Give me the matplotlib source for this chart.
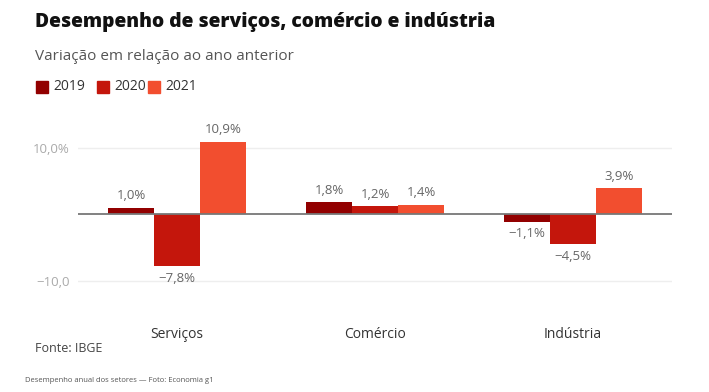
import matplotlib
matplotlib.use("Agg")
import matplotlib.pyplot as plt
from matplotlib.patches import Rectangle
from matplotlib import transforms
import numpy as np

plt.rcParams["font.family"] = ["Open Sans", "DejaVu Sans"]

# ---------- data ----------
categories = ["Serviços", "Comércio", "Indústria"]
years = ["2019", "2020", "2021"]
v2019 = [1.0, 1.8, -1.1]
v2020 = [-7.8, 1.2, -4.5]
v2021 = [10.9, 1.4, 3.9]
yticks = [-10, 10]
ytick_labels = ["\u221210,0", "10,0%"]

colors = ["#920000", "#c4160c", "#f24e2f"]

fig = plt.figure(figsize=(7.09, 3.92), dpi=100)
fig.patch.set_facecolor("#ffffff")
ax = fig.add_axes([0.110, 0.235, 0.838, 0.484])

x = np.arange(len(categories))
w = 0.232
series = [v2019, v2020, v2021]
for i, (vals, c) in enumerate(zip(series, colors)):
    bars = ax.bar(x + (i - 1) * w, vals, width=w, color=c, zorder=2)
    for b, v in zip(bars, vals):
        lbl = f"{v:.1f}%".replace(".", ",").replace("-", "\u2212")
        if v >= 0:
            ax.annotate(lbl, (b.get_x() + b.get_width() / 2, v), xytext=(0, 4),
                        textcoords="offset points", ha="center", va="bottom",
                        fontsize=9.5, color="#666666")
        else:
            ax.annotate(lbl, (b.get_x() + b.get_width() / 2, v), xytext=(0, -4),
                        textcoords="offset points", ha="center", va="top",
                        fontsize=9.5, color="#666666")

ax.set_xlim(-0.5, 2.5)
ax.set_ylim(-12.8, 15.6)
ax.axhline(0, color="#777777", lw=1.3, zorder=3)
for t in yticks:
    ax.axhline(t, color="#eeeeee", lw=1, zorder=1)
ax.set_yticks(yticks)
ax.set_yticklabels(ytick_labels)
ax.tick_params(axis="y", length=0, labelsize=9.5, labelcolor="#aaaaaa", pad=6)
ax.set_xticks([])
for s in ax.spines.values():
    s.set_visible(False)

# category labels
trans = transforms.blended_transform_factory(ax.transData, fig.transFigure)
for xi, cat in zip(x, categories):
    ax.text(xi, 1 - 334 / 392, cat, transform=trans, ha="center", va="center",
            fontsize=10, color="#333333")

# title, subtitle
fig.text(35 / 709, 1 - 22 / 392, "Desempenho de serviços, comércio e indústria",
         fontsize=13.9, fontweight="heavy", color="#111111", va="center", ha="left")
fig.text(35 / 709, 1 - 57 / 392, "Variação em relação ao ano anterior",
         fontsize=11, color="#555555", va="center", ha="left")

# legend
leg_x = [36, 97, 148]
for lx, yr, c in zip(leg_x, years, colors):
    fig.patches.append(Rectangle((lx / 709, 1 - 93 / 392), 12 / 709, 12 / 392,
                                 transform=fig.transFigure, color=c))
    fig.text((lx + 17) / 709, 1 - 87 / 392, yr, fontsize=10, color="#333333",
             va="center", ha="left")

fig.text(35 / 709, 1 - 348 / 392, "Fonte: IBGE", fontsize=9, color="#444444",
         va="center", ha="left")
fig.text(25 / 709, 1 - 380 / 392, "Desempenho anual dos setores \u2014 Foto: Economia g1",
         fontsize=5.5, color="#555555", va="center", ha="left")

fig.savefig("out.png", dpi=100, facecolor=fig.get_facecolor())
